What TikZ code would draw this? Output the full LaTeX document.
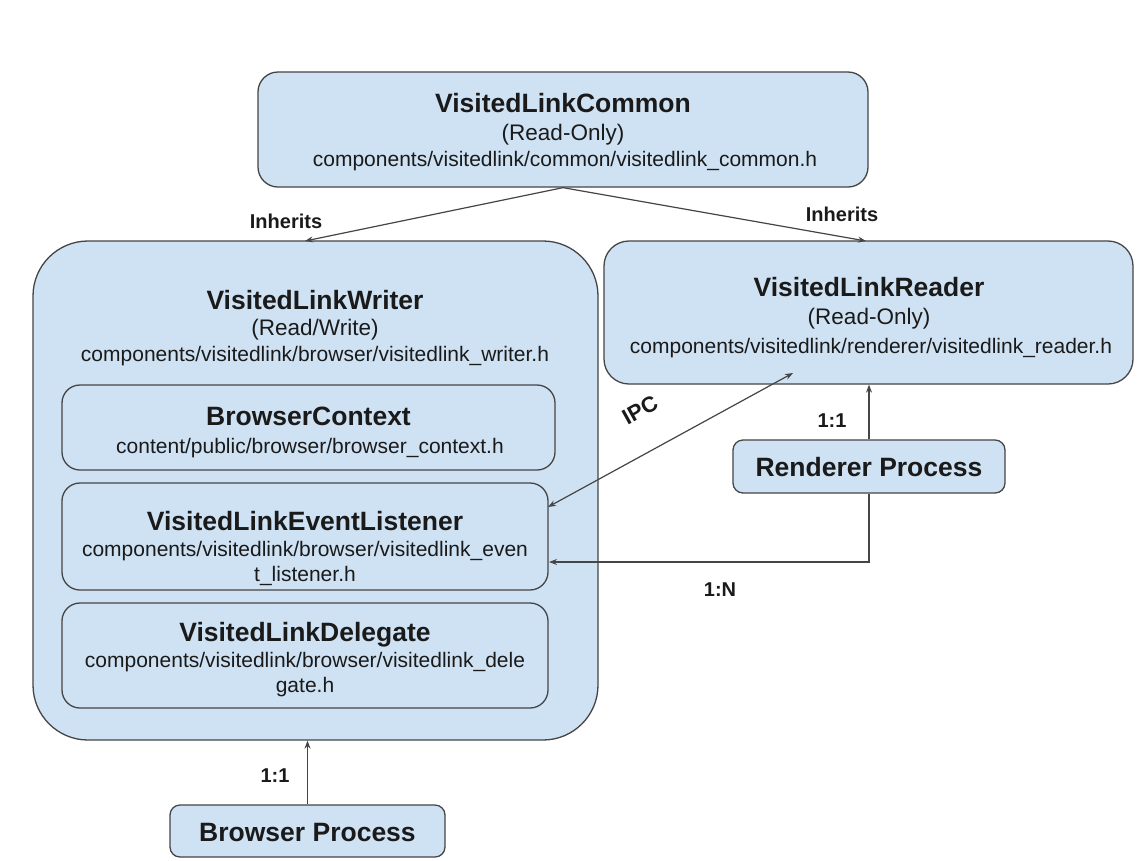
\documentclass[tikz,border=0pt]{standalone}
\usepackage{fontspec}
\setmainfont{Liberation Sans}
\usetikzlibrary{arrows.meta}
\definecolor{boxfill}{HTML}{CFE2F3}
\definecolor{boxline}{HTML}{454545}
\definecolor{txt}{HTML}{1A1A1A}
\tikzset{
  box/.style={draw=boxline, fill=boxfill, line width=1.3pt, rounded corners=#1, inner sep=0pt},
  box/.default=18pt,
  ttl/.style={text=txt, anchor=base, inner sep=0pt, font=\fontsize{26.5}{30}\selectfont\bfseries},
  sbt/.style={text=txt, anchor=base, inner sep=0pt, font=\fontsize{22.5}{26}\selectfont},
  pth/.style={text=txt, anchor=base, inner sep=0pt, font=\fontsize{21}{25}\selectfont},
  small/.style={text=txt, font=\fontsize{20}{24}\selectfont\bfseries, inner sep=0pt},
  arr/.style={draw=boxline, line width=1.2pt, -{Stealth[length=8pt,width=6pt]}},
  darr/.style={draw=boxline, line width=1.2pt, {Stealth[length=8pt,width=6pt]}-{Stealth[length=8pt,width=6pt]}},
}
\begin{document}
\begin{tikzpicture}[x=1pt,y=-1pt]
\path[fill=white,use as bounding box] (0,0) rectangle (1143,860);

% VisitedLinkCommon
\node[box=20pt, minimum width=610pt, minimum height=115pt] (common) at (563,129.5) {};
\node[ttl] (commont) at (563,112) {VisitedLinkCommon};
\node[sbt] (commons) at (563,140) {(Read-Only)};
\node[pth] (commonp) at (565,166) {components/visitedlink/common/visitedlink\_common.h};

% VisitedLinkWriter
\node[box=55pt, minimum width=565pt, minimum height=499pt] (writer) at (315.5,490.5) {};
\node[ttl] (writert) at (315,309) {VisitedLinkWriter};
\node[sbt] (writers) at (315,335) {(Read/Write)};
\node[pth] (writerp) at (315,361) {components/visitedlink/browser/visitedlink\_writer.h};

% VisitedLinkReader
\node[box=25pt, minimum width=529pt, minimum height=143pt] (reader) at (868.5,312.5) {};
\node[ttl] (readert) at (869,296) {VisitedLinkReader};
\node[sbt] (readers) at (869,324) {(Read-Only)};
\node[pth] (readerp) at (871,353) {components/visitedlink/renderer/visitedlink\_reader.h};

% BrowserContext
\node[box=18pt, minimum width=493pt, minimum height=85pt] (bctx) at (308.5,427.5) {};
\node[ttl] (bctxt) at (308.5,425) {BrowserContext};
\node[pth] (bctxp) at (310,453) {content/public/browser/browser\_context.h};

% VisitedLinkEventListener
\node[box=18pt, minimum width=486pt, minimum height=107pt] (listener) at (305,536.5) {};
\node[ttl] (listenert) at (305,530) {VisitedLinkEventListener};
\node[pth] (listenerp1) at (305,556) {components/visitedlink/browser/visitedlink\_even};
\node[pth] (listenerp2) at (305,581) {t\_listener.h};

% VisitedLinkDelegate
\node[box=18pt, minimum width=486pt, minimum height=105pt] (delegate) at (305,655.5) {};
\node[ttl] (delegatet) at (305,641) {VisitedLinkDelegate};
\node[pth] (delegatep1) at (305,667) {components/visitedlink/browser/visitedlink\_dele};
\node[pth] (delegatep2) at (305,692) {gate.h};

% processes
\node[box=10pt, minimum width=272pt, minimum height=53pt] (rproc) at (869,466.5) {};
\node[ttl] (rproct) at (869,476) {Renderer Process};

\node[box=10pt, minimum width=275pt, minimum height=52pt] (bproc) at (307.5,831) {};
\node[ttl] (bproct) at (307.5,841) {Browser Process};

% connectors
\coordinate (wtop) at (305,241);
\coordinate (rtop) at (866,241);
\draw[arr] (common.south) -- (wtop);
\draw[arr] (common.south) -- (rtop);

\coordinate (ipcA) at (548,507);
\coordinate (ipcB) at (793,373);
\draw[darr] (ipcA) -- (ipcB);

\coordinate (lin) at (549,562);
\draw[arr] (rproc.south) |- (lin);
\draw[arr] (rproc.north) -- (reader.south -| rproc.north);
\draw[arr] (bproc.north) -- (writer.south -| bproc.north);

% labels
\node[small] (inh1) at (286,221) {Inherits};
\node[small] (inh2) at (842,214) {Inherits};
\node[small, font=\fontsize{22}{26}\selectfont\bfseries, rotate=29] (ipc) at (640,410) {IPC};
\node[small] (r11) at (832,421) {1:1};
\node[small] (b11) at (275,776) {1:1};
\node[small] (r1n) at (720,590) {1:N};
\end{tikzpicture}
\end{document}
